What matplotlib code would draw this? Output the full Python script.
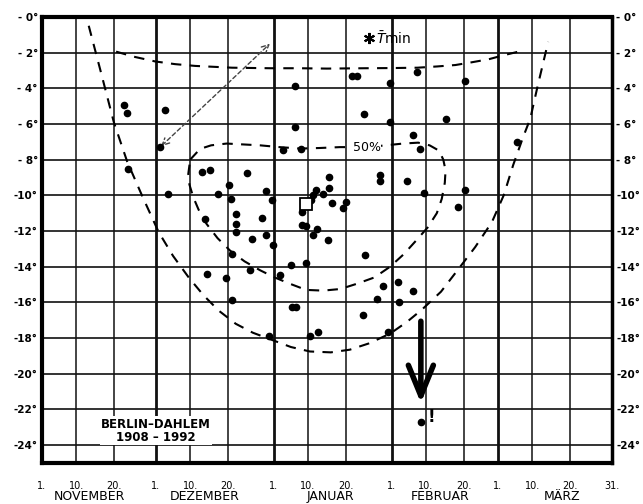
import matplotlib
matplotlib.use('Agg')
import matplotlib.pyplot as plt

# days counted from 1. November (Nov 1 = 0, Dec 1 = 30, Jan 1 = 61, Feb 1 = 92, Mar 1 = 120)
day_ticks = [0, 9, 19, 30, 39, 49, 61, 70, 80, 92, 101, 111, 120, 129, 139, 150]
day_labels = ['1.', '10.', '20.', '1.', '10.', '20.', '1.', '10.', '20.',
              '1.', '10.', '20.', '1.', '10.', '20.', '31.']
month_starts = [0, 30, 61, 92, 120, 150]
month_names = ['NOVEMBER', 'DEZEMBER', 'JANUAR', 'FEBRUAR', 'MÄRZ']
month_centers = [12.4, 42.9, 75.8, 104.7, 136.8]
temp_ticks = list(range(0, -25, -2))
temp_labels = ['- 0°', '- 2°', '- 4°', '- 6°', '- 8°', '-10°', '-12°',
               '-14°', '-16°', '-18°', '-20°', '-22°', '-24°']

# annual minimum temperatures (day of occurrence, °C)
min_days = [21.5, 22.5, 32.5, 31.0, 66.6, 81.5, 83.0, 91.6, 98.8, 84.8,
            66.6, 91.6, 97.5, 63.4, 68.2, 99.4, 111.4, 106.4, 125.0, 75.4,
            89.0, 89.0, 96.0, 42.0, 44.2, 53.9, 22.6, 33.2, 46.2, 49.2,
            59.0, 49.7, 60.6, 72.1, 74.0, 75.5, 71.4, 70.8, 76.2, 80.0,
            79.1, 100.5, 68.4, 42.9, 51.0, 51.0, 51.0, 58.0, 55.2, 59.0,
            60.9, 68.3, 69.6, 72.3, 71.4, 75.2, 85.0, 50.1, 54.7, 65.5,
            69.6, 43.3, 48.4, 62.6, 89.8, 93.8, 97.7, 88.1, 94.0, 49.9,
            65.9, 66.8, 84.5, 59.8, 70.5, 72.6, 91.1, 111.2, 109.5, 99.7]
min_temps = [-4.94, -5.4, -5.2, -7.3, -3.9, -3.3, -3.3, -3.7, -3.07, -5.45,
             -6.16, -5.9, -6.6, -7.47, -7.38, -7.4, -3.6, -5.75, -7.0, -8.95,
             -8.85, -9.2, -9.21, -8.69, -8.56, -8.75, -8.54, -9.9, -9.9, -9.4,
             -9.78, -10.19, -10.28, -9.72, -9.9, -9.59, -10.0, -10.28, -10.41, -10.37,
             -10.71, -9.85, -10.92, -11.31, -11.03, -11.59, -12.06, -11.25, -12.47, -12.25,
             -12.81, -11.65, -11.72, -11.87, -12.25, -12.53, -13.37, -13.28, -14.17, -13.9,
             -13.8, -14.4, -14.64, -14.49, -15.06, -14.83, -15.34, -15.8, -15.96, -15.86,
             -16.27, -16.24, -16.7, -17.87, -17.87, -17.64, -17.68, -9.72, -10.66, -22.7]

mean_day, mean_temp = 69.5, -10.5
tmin_day, tmin_temp = 86.1, -1.2

# envelope curves
outer_days = [12.3, 15.5, 18.9, 22.4, 26.5, 30.7, 34.5, 38.6, 42.5, 46.5, 51, 55.5,
              60.5, 65.5, 70.5, 76, 81, 86, 91.6, 96, 100, 105, 109.7, 114, 118.4,
              121.5, 124, 126.5, 128.5, 130.3, 133.2]
outer_temps = [-0.5, -3.1, -5.9, -8.1, -10.1, -12.06, -13.4, -14.6, -15.6, -16.46, -17.2, -17.7,
               -18.1, -18.5, -18.75, -18.8, -18.65, -18.3, -17.75, -17.1, -16.4, -15.4, -14.1, -12.9, -11.5,
               -10.0, -8.3, -6.8, -5.7, -4.0, -1.4]
top_days = [19.5, 24.5, 29.8, 35, 40.3, 50, 60, 67.5, 75, 85, 92, 98.8, 104, 108.8,
            113, 117.5, 121.5, 125.4]
top_temps = [-1.95, -2.25, -2.5, -2.65, -2.75, -2.85, -2.88, -2.88, -2.9, -2.88, -2.87, -2.85,
             -2.78, -2.7, -2.55, -2.38, -2.15, -1.95]
fifty_days = [39, 41.6, 44.5, 48.6, 53, 57.4, 62.5, 67.9, 73, 78.4, 85.4, 90.5, 95, 99, 102,
              104.5, 105.6, 106.2, 106, 105.2, 103.9, 101.5, 98.6, 95.2, 91.6, 87.5, 82.8, 78.5,
              74, 69.5, 65.3, 61.2, 57.4, 53.3, 49.5, 46.2, 43.3, 41.2, 39.8, 38.8, 38.5, 39]
fifty_temps = [-8.0, -7.4, -7.2, -7.1, -7.15, -7.2, -7.3, -7.38, -7.35, -7.3, -7.3, -7.2, -7.1,
               -7.05, -7.2, -7.5, -8.0, -8.6, -9.3, -10.2, -11.0, -11.8, -12.5, -13.3, -14.0, -14.6,
               -14.96, -15.25, -15.34, -15.3, -14.96, -14.6, -14.2, -13.7, -13.1, -12.4, -11.6, -10.8,
               -10.1, -9.4, -8.8, -8.0]

fig = plt.figure(figsize=(6.43, 5.04), dpi=100)
ax = fig.add_axes([0.0653, 0.0813, 0.8865, 0.8853])
ax.set_xlim(0, 150)
ax.set_ylim(-25, 0)

# grid
for d in day_ticks:
    lw = 2.0 if d in month_starts else 1.1
    ax.axvline(d, color='#111111', lw=lw, zorder=1)
for t in temp_ticks:
    ax.axhline(t, color='#111111', lw=1.2, zorder=1)
for side in ['top', 'bottom', 'left']:
    ax.spines[side].set_linewidth(3)
ax.spines['right'].set_linewidth(2.5)

dash = (0, (5, 4))
ax.plot(outer_days, outer_temps, color='black', lw=1.5, ls=dash, zorder=3)
ax.plot(top_days, top_temps, color='black', lw=1.5, ls=dash, zorder=3)
ax.plot(fifty_days, fifty_temps, color='black', lw=1.5, ls=dash, zorder=3)

ax.plot(min_days, min_temps, 'o', color='black', markersize=4.5, zorder=4)
ax.plot(mean_day, mean_temp, 's', mfc='white', mec='black', mew=1.3, markersize=8, zorder=4)
ax.plot(tmin_day, tmin_temp, marker=(6, 2, 0), color='black', markersize=8, mew=1.5, zorder=4)
ax.text(tmin_day + 1.8, tmin_temp, r'$\bar{T}$min', fontsize=10, va='center', ha='left', zorder=5)

ax.text(85.4, -7.3, '50%', fontsize=9, ha='center', va='center', zorder=5,
        bbox=dict(facecolor='white', edgecolor='none', pad=0.5))

# dashed double arrow and big arrow
ax.annotate('', xy=(60.5, -1.4), xytext=(30.8, -7.36),
            arrowprops=dict(arrowstyle='<->,head_length=0.5,head_width=0.25',
                            color='#444444', lw=1, ls=(0, (3, 2))), zorder=3)
ax.annotate('', xy=(99.7, -21.8), xytext=(99.7, -16.9),
            arrowprops=dict(arrowstyle='->,head_length=2.2,head_width=0.9',
                            color='black', lw=4), zorder=6)
ax.text(102.6, -22.4, '!', fontsize=12, fontweight='bold', ha='center', va='center', zorder=5)

ax.text(30, -23.2, 'BERLIN–DAHLEM\n1908 – 1992', fontsize=8.5, fontweight='bold',
        ha='center', va='center', linespacing=1.0, zorder=5,
        bbox=dict(facecolor='white', edgecolor='none', pad=1))

# axes labels
ax.set_yticks(temp_ticks)
ax.set_yticklabels(temp_labels, fontsize=7.5, fontweight='bold')
ax.tick_params(axis='y', length=0, pad=3, labelright=True)
ax.set_xticks(day_ticks)
ax.set_xticklabels(day_labels, fontsize=7)
ax.tick_params(axis='x', length=0, pad=13)
for name, c in zip(month_names, month_centers):
    ax.text(c, -0.076, name, transform=ax.get_xaxis_transform(), fontsize=9,
            ha='center', va='center')

plt.savefig('out.png', dpi=100)
